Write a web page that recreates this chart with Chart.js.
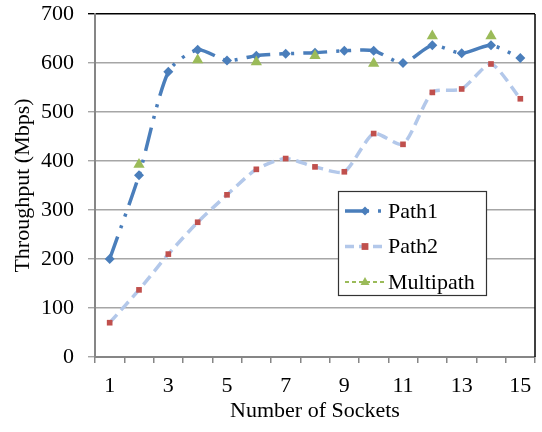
<!DOCTYPE html>
<html>
<head>
<meta charset="utf-8">
<script src="https://cdn.jsdelivr.net/npm/chart.js@4/dist/chart.umd.min.js"></script>
<style>
  html, body { margin: 0; padding: 0; background: #fff; }
  #wrap { width: 542px; height: 432px; position: relative; }
</style>
</head>
<body>
<div id="wrap"><canvas id="c" width="542" height="432"></canvas></div>
<script>
// ---- data ----
const categories = ['1','2','3','4','5','6','7','8','9','10','11','12','13','14','15'];
const path1 = [200, 371, 582, 627, 605, 615, 619, 621, 625, 625, 600, 636, 620, 636, 610];
const path2 = [70, 137, 210, 275, 331, 383, 405, 388, 378, 456, 434, 540, 547, 598, 527];
const multipath = [null, 393, null, 606, null, 602, null, 615, null, 599, null, 655, null, 655, null];
const seriesNames = ['Path1', 'Path2', 'Multipath'];
const yMin = 0, yMax = 700, yStep = 100;
const xTitle = 'Number of Sockets';
const yTitle = 'Throughput (Mbps)';

const FONT = "'Liberation Serif', 'Times New Roman', serif";
const C1 = '#4A7EBB', C2 = '#B3C8EA', C2M = '#C0504D', C3 = '#9BBB59';

function drawMarker(ctx, style, x, y, r, color) {
  ctx.save();
  ctx.setLineDash([]);
  ctx.fillStyle = color;
  ctx.beginPath();
  if (style === 'rectRot') {
    ctx.moveTo(x, y - r); ctx.lineTo(x + r, y); ctx.lineTo(x, y + r); ctx.lineTo(x - r, y);
  } else if (style === 'rect') {
    ctx.rect(x - r * 0.85, y - r * 0.85, r * 1.7, r * 1.7);
  } else {
    ctx.moveTo(x, y - r); ctx.lineTo(x + r * 0.9, y + r * 0.6); ctx.lineTo(x - r * 0.9, y + r * 0.6);
  }
  ctx.closePath();
  ctx.fill();
  ctx.restore();
}

const framePlugin = {
  id: 'frame',
  afterDraw(chart) {
    const { ctx, chartArea: a } = chart;
    ctx.save();
    ctx.strokeStyle = '#000';
    ctx.lineWidth = 1.5;
    ctx.beginPath();
    ctx.moveTo(a.right, a.top);
    ctx.lineTo(a.right, a.bottom);
    ctx.stroke();
    ctx.restore();

    // legend inside the plot
    const lx = a.left + 243, ly = a.top + 177, lw = 148, lh = 104;
    ctx.save();
    ctx.fillStyle = '#fff';
    ctx.fillRect(lx, ly, lw, lh);
    ctx.strokeStyle = '#333';
    ctx.lineWidth = 1.2;
    ctx.strokeRect(lx + 0.5, ly + 0.5, lw, lh);
    const legendItems = [
      { ds: chart.data.datasets[0], dash: [24, 9, 3, 9], w: 3.5, color: C1, mcolor: C1, style: 'rectRot', r: 4.5 },
      { ds: chart.data.datasets[1], dash: [9, 5], w: 3.5, color: C2, mcolor: C2M, style: 'rect', r: 4 },
      { ds: chart.data.datasets[2], dash: [4, 3], w: 2, color: C3, mcolor: C3, style: 'triangle', r: 5 }
    ];
    legendItems.forEach((it, i) => {
      const cy = ly + 20 + i * 35.5;
      ctx.strokeStyle = it.color;
      ctx.lineWidth = it.w;
      ctx.setLineDash(it.dash);
      ctx.beginPath();
      ctx.moveTo(lx + 7, cy);
      ctx.lineTo(lx + 46, cy);
      ctx.stroke();
      ctx.setLineDash([]);
      drawMarker(ctx, it.style, lx + 27, cy, it.r, it.mcolor);
      ctx.fillStyle = '#000';
      ctx.font = '22px ' + FONT;
      ctx.textBaseline = 'middle';
      ctx.textAlign = 'left';
      ctx.fillText(it.ds.label, lx + 50, cy + 1);
    });
    ctx.restore();
  }
};

new Chart(document.getElementById('c'), {
  type: 'line',
  data: {
    labels: categories,
    datasets: [
      {
        label: seriesNames[0], data: path1, order: 1,
        borderColor: C1, backgroundColor: C1, borderWidth: 3.5,
        borderDash: [24, 9, 3, 9, 3, 9], tension: 0.25,
        pointStyle: 'rectRot', pointRadius: 5, pointBackgroundColor: C1, pointBorderColor: C1, pointBorderWidth: 0
      },
      {
        label: seriesNames[1], data: path2, order: 2,
        borderColor: C2, backgroundColor: C2M, borderWidth: 3.5,
        borderDash: [11, 6], tension: 0.22,
        pointStyle: 'rect', pointRadius: 4, pointBackgroundColor: C2M, pointBorderColor: C2M, pointBorderWidth: 0
      },
      {
        label: seriesNames[2], data: multipath, order: 0,
        borderColor: C3, backgroundColor: C3, borderWidth: 2,
        borderDash: [4, 3], spanGaps: false,
        pointStyle: 'triangle', pointRadius: 6.5, pointBackgroundColor: C3, pointBorderColor: C3, pointBorderWidth: 0
      }
    ]
  },
  options: {
    responsive: false,
    animation: false,
    devicePixelRatio: 1,
    layout: { padding: { left: 0, right: 7, top: 14, bottom: 0 } },
    plugins: { legend: { display: false }, tooltip: { enabled: false } },
    scales: {
      x: {
        type: 'category',
        offset: true,
        afterFit(scale) { scale.height = 75; scale.paddingLeft = 0; scale.paddingRight = 0; },
        grid: { display: true, offset: true, drawOnChartArea: false, drawTicks: true, tickLength: 6, color: '#868686', lineWidth: 1.5 },
        border: { display: true, color: '#868686', width: 2 },
        ticks: {
          autoSkip: false, maxRotation: 0, padding: 10, color: '#000',
          font: { family: FONT, size: 22 },
          callback(v, i) { return i % 2 === 0 ? categories[i] : ''; }
        },
        title: { display: true, text: xTitle, color: '#000', font: { family: FONT, size: 22, lineHeight: 1.2 }, padding: { top: 0, bottom: 8 } }
      },
      y: {
        min: yMin, max: yMax,
        afterFit(scale) { scale.width = 95; scale.paddingTop = 0; scale.paddingBottom = 0; },
        grid: {
          drawTicks: true, tickLength: 7, lineWidth: 1.4,
          color(ctx) { return ctx.tick && ctx.tick.value === yMax ? '#000' : '#A6A6A6'; }
        },
        border: { display: true, color: '#868686', width: 2 },
        ticks: { stepSize: yStep, padding: 14, color: '#000', font: { family: FONT, size: 22 } },
        title: { display: true, text: yTitle, color: '#000', font: { family: FONT, size: 22, lineHeight: 1.2 }, padding: { top: 10, bottom: 0 } }
      }
    }
  },
  plugins: [framePlugin]
});
</script>
</body>
</html>
